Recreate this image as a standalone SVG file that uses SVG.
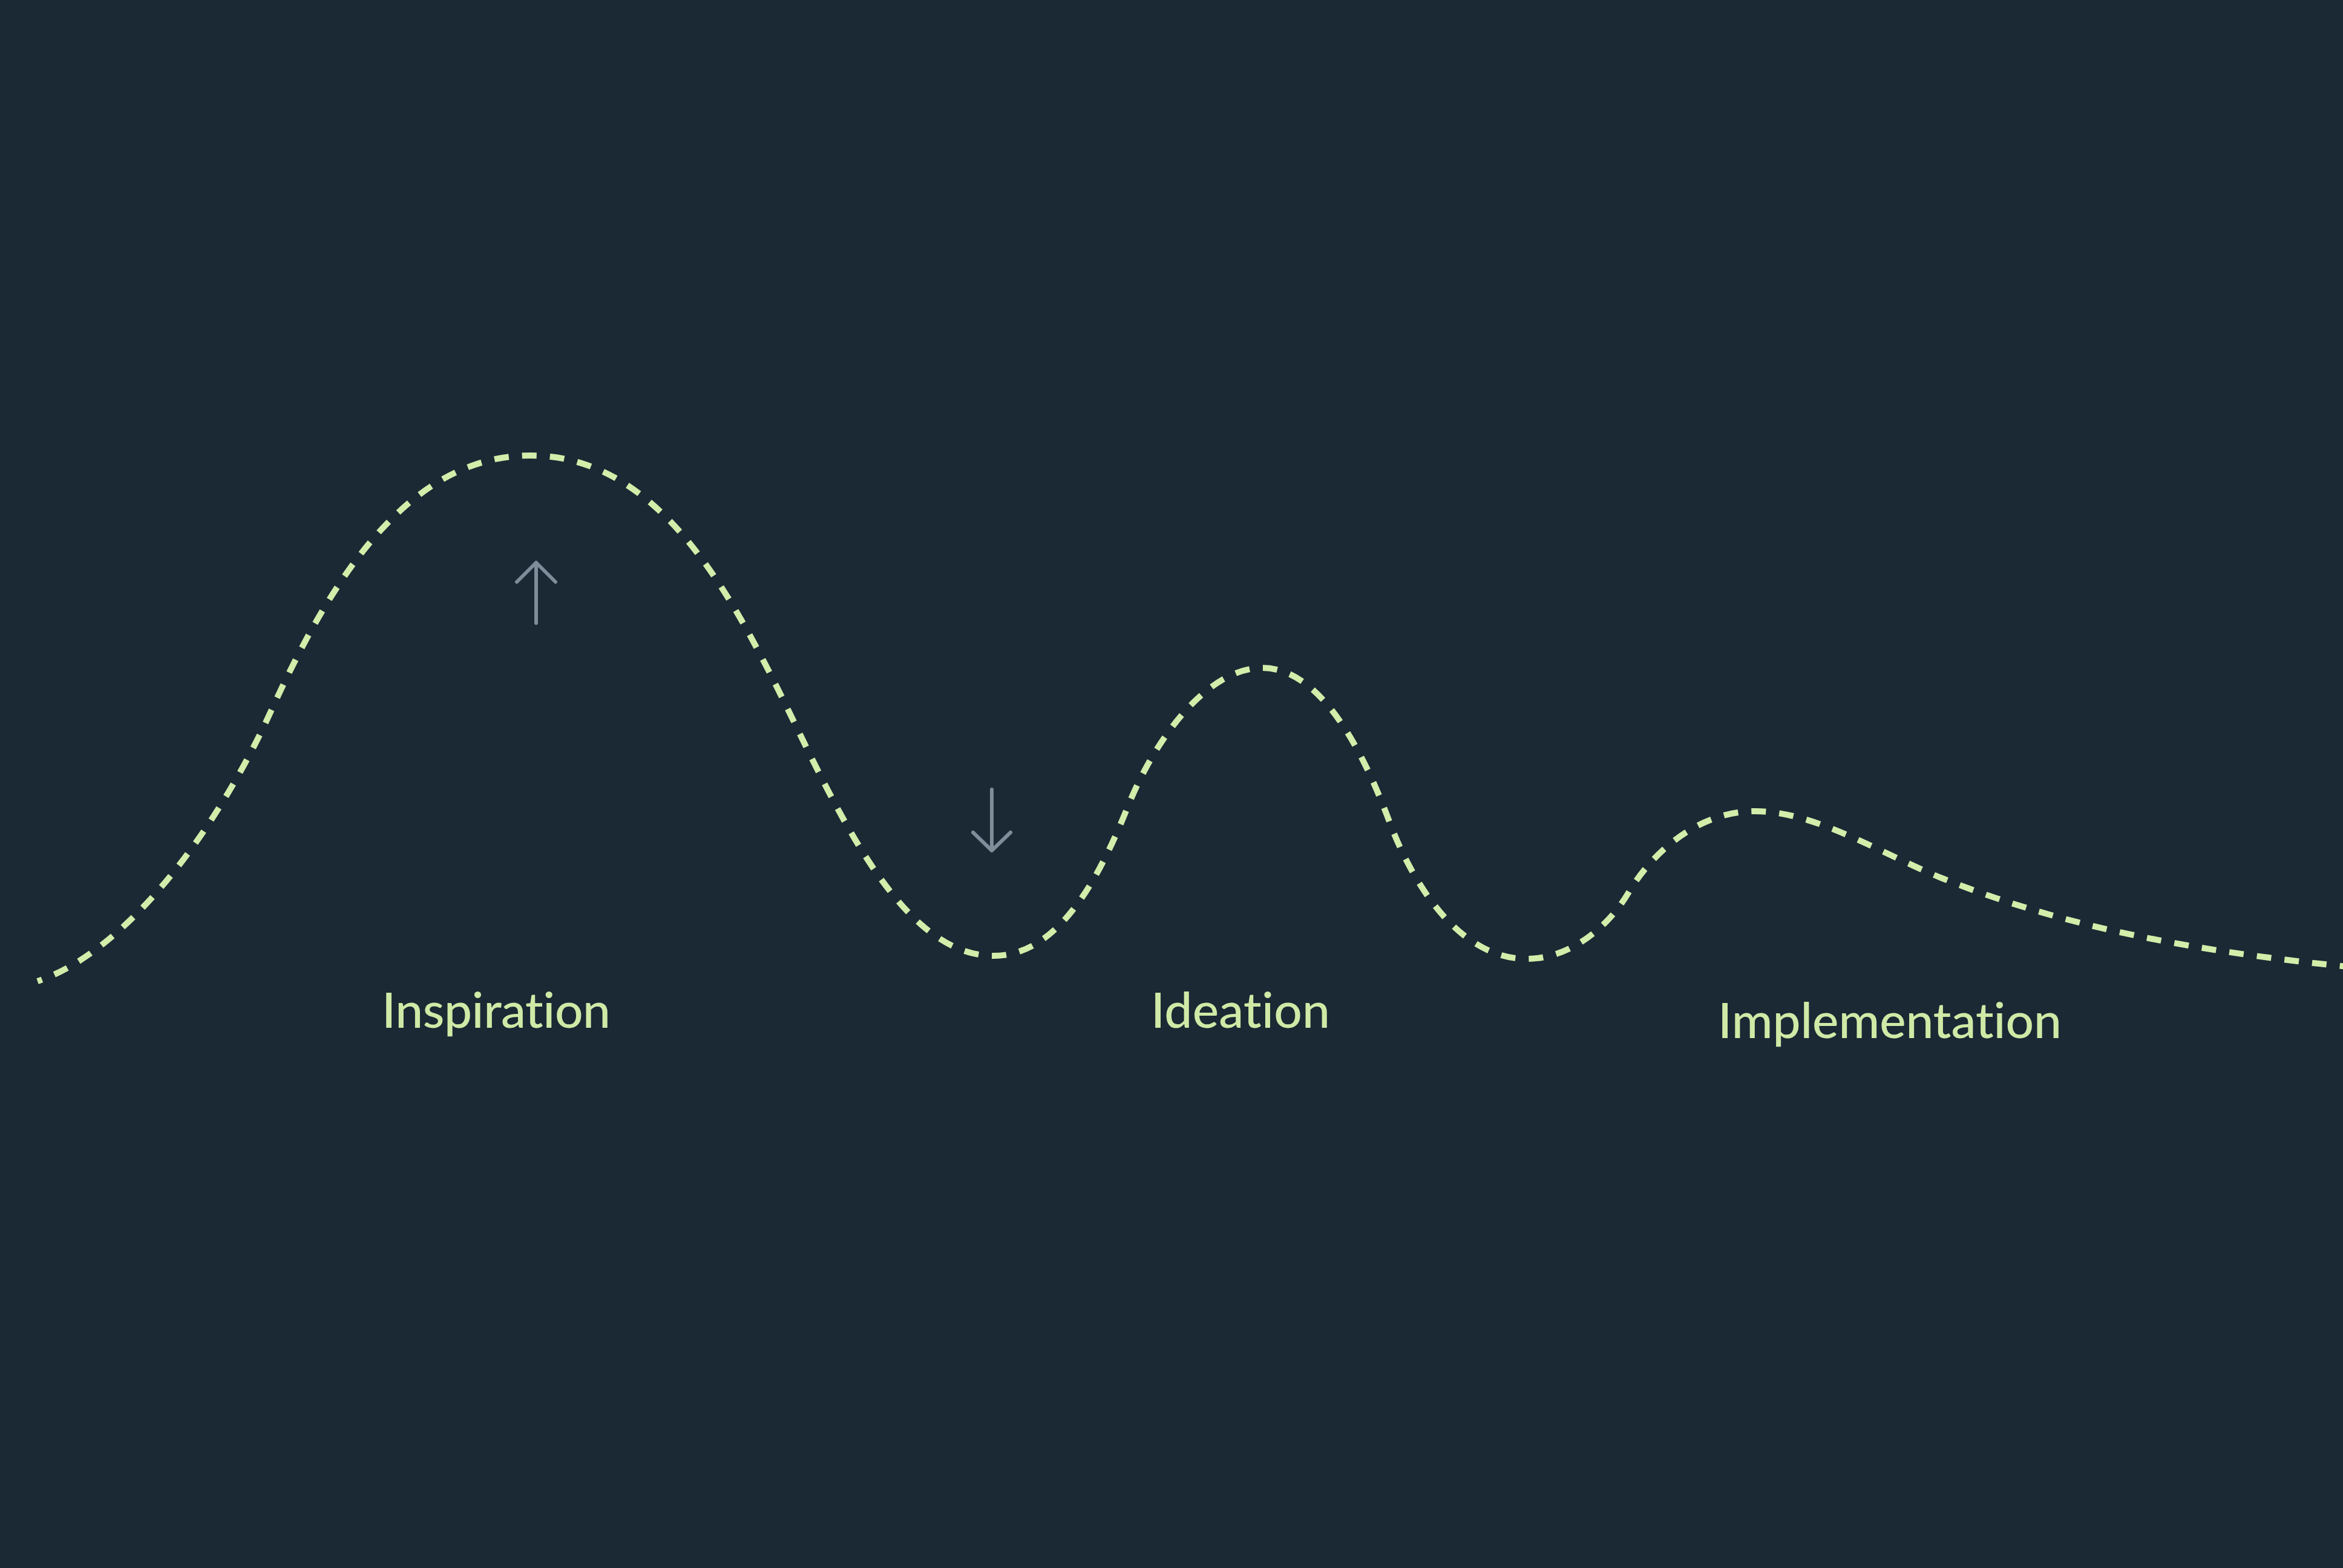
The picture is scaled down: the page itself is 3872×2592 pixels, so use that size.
<svg xmlns="http://www.w3.org/2000/svg" width="3872" height="2592" viewBox="0 0 3872 2592">
<style>
.bg{fill:#1a2934}
.curve{fill:none;stroke:#d3edaa;stroke-width:10;stroke-dasharray:24 22;stroke-dashoffset:16;stroke-linecap:butt}
.arrow{fill:none;stroke:#7f8c99;stroke-width:6;stroke-linecap:round;stroke-linejoin:round}
.label{fill:#d0e9a6;font-family:"Lato","Noto Sans",sans-serif;font-size:82px;font-weight:500;text-anchor:middle;font-variant-ligatures:none;font-feature-settings:"liga" 0}
</style>
<rect class="bg" x="0" y="0" width="3872" height="2592"/>
<g id="connectors">
<path id="wave" class="curve" d="M62,1622 C212,1571 359,1371 449,1173 C549,953 677,753 877,753 C1077,753 1194,956 1284,1136 C1374,1316 1482,1580 1642,1580 C1752,1580 1819,1445 1864,1333 C1909,1220 1996,1104 2086,1104 C2186,1104 2256,1251 2296,1358 C2336,1465 2413,1585 2523,1585 C2593,1585 2656,1535 2691,1476 C2726,1416 2801,1341 2901,1341 C3001,1341 3110,1412 3210,1452 C3410,1532 3622,1572 3880,1598"/>
<g id="arrow-up"><path class="arrow" d="M886,1030 L886,930 M854,962 L886,930 L918,962"/></g>
<g id="arrow-down"><path class="arrow" d="M1639,1305 L1639,1406 M1608,1376 L1639,1406 L1670,1376"/></g>
</g>
<g id="node-inspiration"><text class="label" x="820" y="1699" textLength="378">Inspiration</text></g>
<g id="node-ideation"><text class="label" x="2050" y="1699" textLength="296">Ideation</text></g>
<g id="node-implementation"><text class="label" x="3123" y="1716" textLength="568">Implementation</text></g>
</svg>
